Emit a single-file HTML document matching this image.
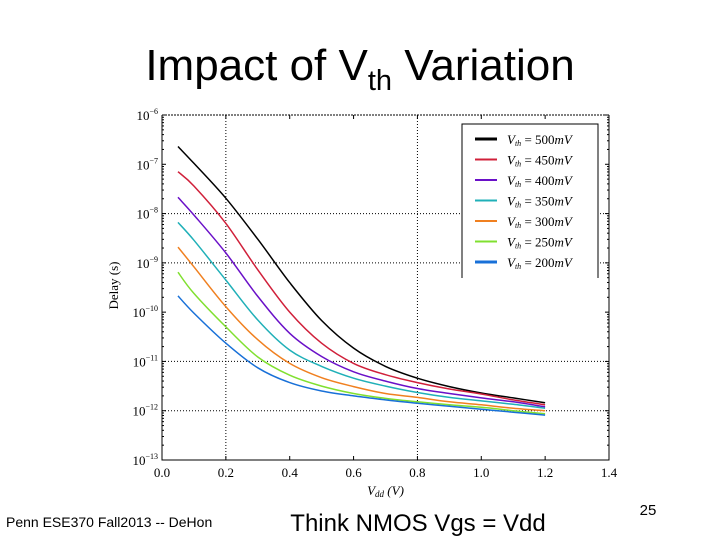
<!DOCTYPE html>
<html><head><meta charset="utf-8"><style>
body{margin:0;background:#fff;}
svg{display:block;}
.t{font-family:"Liberation Sans",sans-serif;}
.s{font-family:"Liberation Serif",serif;}
</style></head><body>
<svg id="c" width="720" height="540" xmlns="http://www.w3.org/2000/svg">
<text class="t" x="360" y="80" font-size="44" text-anchor="middle">Impact of V<tspan font-size="29" dy="10">th</tspan><tspan dy="-10"> Variation</tspan></text>
<text class="t" x="6" y="527" font-size="14">Penn ESE370 Fall2013 -- DeHon</text>
<text class="t" x="418" y="531" font-size="24" text-anchor="middle">Think NMOS Vgs = Vdd</text>
<text class="t" x="648" y="515" font-size="15" text-anchor="middle">25</text>
<g id="plot"></g>
</svg>
<script>
const xVals=[0.05,0.1,0.2,0.3,0.4,0.5,0.6,0.7,0.8,0.9,1.0,1.1,1.2];
const vthLabels=["500","450","400","350","300","250","200"];
const colors=["#000000","#d0203a","#6a10c8","#20b0b8","#f08020","#80e030","#1870d8"];
const s500=[-6.64,-6.98,-7.69,-8.52,-9.4,-10.17,-10.73,-11.1,-11.34,-11.51,-11.64,-11.74,-11.84];
const s450=[-7.15,-7.44,-8.2,-9.14,-10.0,-10.63,-11.04,-11.27,-11.43,-11.56,-11.66,-11.78,-11.88];
const s400=[-7.67,-8.03,-8.8,-9.68,-10.43,-10.9,-11.21,-11.4,-11.55,-11.65,-11.74,-11.82,-11.92];
const s350=[-8.18,-8.54,-9.35,-10.16,-10.77,-11.1,-11.34,-11.5,-11.63,-11.73,-11.8,-11.87,-11.95];
const s300=[-8.68,-9.08,-9.89,-10.56,-11.04,-11.33,-11.51,-11.65,-11.73,-11.82,-11.88,-11.95,-12.0];
const s250=[-9.19,-9.62,-10.3,-10.91,-11.28,-11.5,-11.65,-11.75,-11.82,-11.88,-11.93,-12.0,-12.06];
const s200=[-9.67,-10.02,-10.63,-11.13,-11.43,-11.6,-11.7,-11.78,-11.85,-11.91,-11.97,-12.03,-12.09];
const series=[s500,s450,s400,s350,s300,s250,s200];
const xTicks=["0.0","0.2","0.4","0.6","0.8","1.0","1.2","1.4"];
const yExps=[-6,-7,-8,-9,-10,-11,-12,-13];
const gridX=[0.2,0.8];
const gridY=[-8,-9,-11,-12];

const L=162,R=609,T=115,B=460;
const X=v=>L+(v-0)/1.4*(R-L);
const Y=e=>T+(-6-e)/7*(B-T);
const NS="http://www.w3.org/2000/svg";
const g=document.getElementById('plot');
function mk(tag,at,parent){const e=document.createElementNS(NS,tag);for(const k in at)e.setAttribute(k,at[k]);(parent||g).appendChild(e);return e;}

gridX.forEach(v=>{const l=mk('line',{x1:X(v),x2:X(v),y1:T,y2:B,stroke:'#000','stroke-width':1,'stroke-dasharray':'1,2'});

});
gridY.forEach(v=>{const l=mk('line',{x1:L,x2:R,y1:Y(v),y2:Y(v),stroke:'#000','stroke-width':1,'stroke-dasharray':'1,2'});

});

const fr=mk('path',{d:`M${L},${T}V${B}H${R}V${T}`,fill:'none',stroke:'#000','stroke-width':1});


const tp=mk('line',{x1:L,x2:R,y1:T,y2:T,stroke:'#000','stroke-width':1,'stroke-dasharray':'2,1'});



yExps.forEach(e=>{const y=Y(e);
mk('line',{x1:L,x2:L+4,y1:y,y2:y,stroke:'#000'});mk('line',{x1:R-4,x2:R,y1:y,y2:y,stroke:'#000'});
for(let k=2;k<10&&e>-13;k++){const ym=Y(e-1+Math.log10(k));mk('line',{x1:L,x2:L+2,y1:ym,y2:ym,stroke:'#000'});mk('line',{x1:R-2,x2:R,y1:ym,y2:ym,stroke:'#000'});}
const t=mk('text',{x:L-4,y:y+5,'font-size':13,'text-anchor':'end','class':'s'});


t.textContent='10';const sp=mk('tspan',{'font-size':8,dy:-6},t);sp.textContent='−'+Math.abs(e);});
xTicks.forEach(s=>{const x=X(parseFloat(s));mk('line',{x1:x,x2:x,y1:B,y2:B-4,stroke:'#000'});mk('line',{x1:x,x2:x,y1:T,y2:T+4,stroke:'#000'});
const t=mk('text',{x:x,y:B+17,'font-size':13,'text-anchor':'middle','class':'s'});


t.textContent=s;});
const yl=mk('text',{x:0,y:0,'font-size':13,'text-anchor':'middle','class':'s',transform:`translate(118,${(T+B)/2-2}) rotate(-90)`});


yl.textContent='Delay (s)';
const xl=mk('text',{x:(L+R)/2,y:495,'font-size':13,'text-anchor':'middle','class':'s','font-style':'italic'});


xl.innerHTML='V<tspan font-size="9" dy="2">dd</tspan><tspan dy="-2"> (V)</tspan>';

function smooth(pts){let d='M'+pts[0][0].toFixed(1)+','+pts[0][1].toFixed(1);
for(let i=0;i<pts.length-1;i++){const p0=pts[i-1]||pts[i],p1=pts[i],p2=pts[i+1],p3=pts[i+2]||p2;
const c1=[p1[0]+(p2[0]-p0[0])/6,p1[1]+(p2[1]-p0[1])/6],c2=[p2[0]-(p3[0]-p1[0])/6,p2[1]-(p3[1]-p1[1])/6];
d+='C'+c1.map(v=>v.toFixed(1))+' '+c2.map(v=>v.toFixed(1))+' '+p2[0].toFixed(1)+','+p2[1].toFixed(1);}
return d;}
series.forEach((s,i)=>{const d=smooth(s.map((v,j)=>[X(xVals[j]),Y(v)]));
const p=mk('path',{d:d,fill:'none',stroke:colors[i],'stroke-width':1.5,'stroke-linejoin':'round'});

});

const lg=mk('g',{});


mk('rect',{x:462,y:124,width:136,height:160,fill:'#fff',stroke:'none'},lg);
mk('path',{d:'M462,278V124H598V278',fill:'none',stroke:'#000'},lg);
vthLabels.forEach((v,i)=>{const y=139+i*20.5;
const e=mk('g',{},lg);


mk('line',{x1:475,x2:497,y1:y,y2:y,stroke:colors[i],'stroke-width':i==0||i==6?3:2},e);
const t=mk('text',{x:507,y:y+5,'font-size':13,'class':'s','font-style':'italic'},e);
t.innerHTML='V<tspan font-size="8" dy="2">th</tspan><tspan dy="-2" font-style="normal"> = '+v+'</tspan>mV';});
</script>
</body></html>
